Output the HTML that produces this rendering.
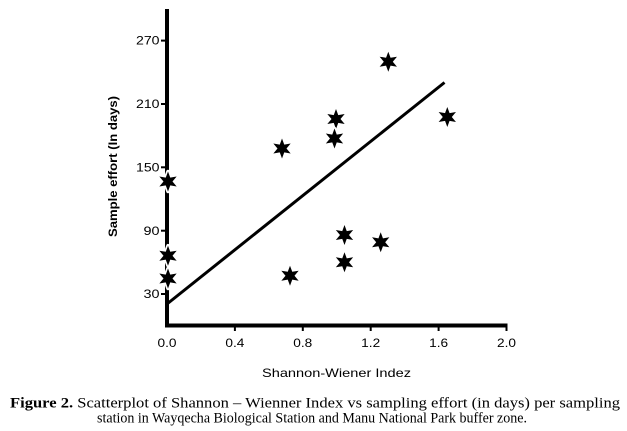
<!DOCTYPE html>
<html>
<head>
<meta charset="utf-8">
<style>
html,body{margin:0;padding:0;background:#fff;}
svg{display:block;}
</style>
</head>
<body>
<svg width="627" height="431" viewBox="0 0 627 431" xmlns="http://www.w3.org/2000/svg">
<defs>
<polygon id="st" points="0,-10 2.25,-3.9 8.66,-5 4.5,0 8.66,5 2.25,3.9 0,10 -2.25,3.9 -8.66,5 -4.5,0 -8.66,-5 -2.25,-3.9"/>
</defs>
<rect width="627" height="431" fill="#fff"/>
<!-- axes -->
<line x1="167" y1="9" x2="167" y2="327.5" stroke="#000" stroke-width="4"/>
<line x1="165" y1="325.5" x2="507.5" y2="325.5" stroke="#000" stroke-width="4"/>
<!-- ticks -->
<g stroke="#000" stroke-width="2">
<line x1="161" y1="40.6" x2="167" y2="40.6"/>
<line x1="161" y1="104" x2="167" y2="104"/>
<line x1="161" y1="167.3" x2="167" y2="167.3"/>
<line x1="161" y1="230.7" x2="167" y2="230.7"/>
<line x1="161" y1="294" x2="167" y2="294"/>
<line x1="234.9" y1="325" x2="234.9" y2="331"/>
<line x1="302.8" y1="325" x2="302.8" y2="331"/>
<line x1="370.7" y1="325" x2="370.7" y2="331"/>
<line x1="438.6" y1="325" x2="438.6" y2="331"/>
<line x1="506.5" y1="325" x2="506.5" y2="331"/>
</g>
<!-- y tick labels -->
<g font-family="'Liberation Sans', sans-serif" font-size="11.5" fill="#000" text-anchor="end">
<text x="159.5" y="44.7" textLength="23.5" lengthAdjust="spacingAndGlyphs">270</text>
<text x="159.5" y="108.1" textLength="23.5" lengthAdjust="spacingAndGlyphs">210</text>
<text x="159.5" y="171.4" textLength="23.5" lengthAdjust="spacingAndGlyphs">150</text>
<text x="159.5" y="234.8" textLength="16" lengthAdjust="spacingAndGlyphs">90</text>
<text x="159.5" y="298.1" textLength="16" lengthAdjust="spacingAndGlyphs">30</text>
</g>
<!-- x tick labels -->
<g font-family="'Liberation Sans', sans-serif" font-size="11.5" fill="#000">
<text x="157.5" y="347" textLength="19" lengthAdjust="spacingAndGlyphs">0.0</text>
<text x="225.4" y="347" textLength="19" lengthAdjust="spacingAndGlyphs">0.4</text>
<text x="293.3" y="347" textLength="19" lengthAdjust="spacingAndGlyphs">0.8</text>
<text x="361.2" y="347" textLength="19" lengthAdjust="spacingAndGlyphs">1.2</text>
<text x="429.1" y="347" textLength="19" lengthAdjust="spacingAndGlyphs">1.6</text>
<text x="497" y="347" textLength="19" lengthAdjust="spacingAndGlyphs">2.0</text>
</g>
<!-- axis titles -->
<text x="262" y="377" font-family="'Liberation Sans', sans-serif" font-size="12" fill="#000" textLength="149" lengthAdjust="spacingAndGlyphs">Shannon-Wiener Indez</text>
<text transform="translate(117,237) rotate(-90)" x="0" y="0" font-family="'Liberation Sans', sans-serif" font-size="12" font-weight="bold" fill="#000" textLength="141" lengthAdjust="spacingAndGlyphs">Sample effort (In days)</text>
<!-- regression line -->
<line x1="167" y1="304" x2="444.5" y2="82.5" stroke="#000" stroke-width="3"/>
<!-- stars -->
<g fill="#000" stroke="#fff" stroke-width="3.5" style="paint-order:stroke" stroke-linejoin="round">
<use href="#st" x="168" y="181.5"/>
<use href="#st" x="168" y="255.7"/>
<use href="#st" x="168" y="278.5"/>
<use href="#st" x="290" y="275.7"/>
<use href="#st" x="388.3" y="61.7"/>
<use href="#st" x="336" y="119"/>
<use href="#st" x="334.5" y="138.5"/>
<use href="#st" x="282" y="148.5"/>
<use href="#st" x="447.3" y="117"/>
<use href="#st" x="344.5" y="235"/>
<use href="#st" x="344.5" y="262.3"/>
<use href="#st" x="380.7" y="242.3"/>
</g>
<!-- caption -->
<g font-family="'Liberation Serif', serif" font-size="14.5" fill="#000">
<text x="10" y="407.5" textLength="610" lengthAdjust="spacingAndGlyphs"><tspan font-weight="bold">Figure 2.</tspan> Scatterplot of Shannon – Wienner Index vs sampling effort (in days) per sampling</text>
<text x="97" y="422.5" textLength="430" lengthAdjust="spacingAndGlyphs">station in Wayqecha Biological Station and Manu National Park buffer zone.</text>
</g>
</svg>
</body>
</html>
